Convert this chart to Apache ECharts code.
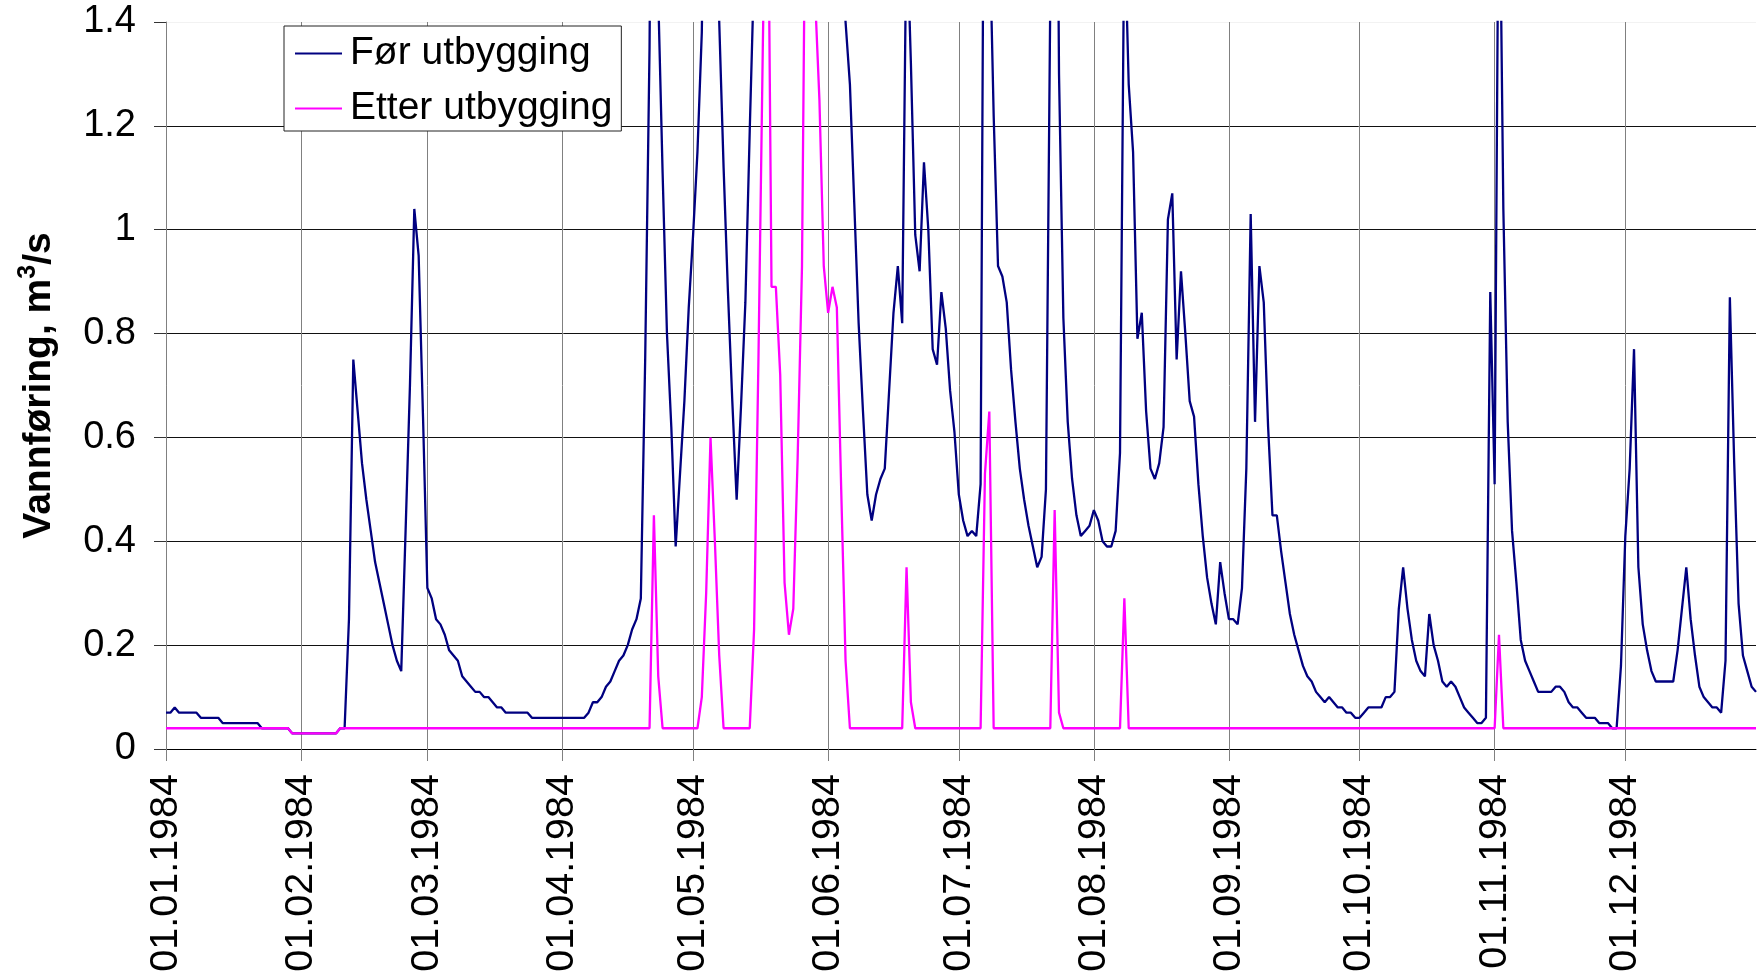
<!DOCTYPE html>
<html>
<head>
<meta charset="utf-8">
<script src="https://cdn.jsdelivr.net/npm/echarts@6/dist/echarts.min.js"></script>
<style>
html, body { margin: 0; padding: 0; background: #fff; }
#chart { width: 1759px; height: 977px; }
</style>
</head>
<body>
<div id="chart"></div>
<script>
// ---- Data ----
const seriesNames = ['Før utbygging', 'Etter utbygging'];

// Daily categories for 1984 (leap year, 366 days)
function pad2(n) { return (n < 10 ? '0' : '') + n; }
const categories = [];
(function () {
  const d = new Date(Date.UTC(1984, 0, 1));
  while (d.getUTCFullYear() === 1984) {
    categories.push(pad2(d.getUTCDate()) + '.' + pad2(d.getUTCMonth() + 1) + '.1984');
    d.setUTCDate(d.getUTCDate() + 1);
  }
})();

// Før utbygging (before development), m3/s, one value per day by month
const forJan = [0.07,0.07,0.08,0.07,0.07,0.07,0.07,0.07,0.06,0.06,0.06,0.06,0.06,0.05,0.05,0.05,0.05,0.05,0.05,0.05,0.05,0.05,0.04,0.04,0.04,0.04,0.04,0.04,0.04,0.03,0.03];
const forFeb = [0.03,0.03,0.03,0.03,0.03,0.03,0.03,0.03,0.03,0.04,0.04,0.25,0.75,0.65,0.55,0.48,0.42,0.36,0.32,0.28,0.24,0.20,0.17,0.15,0.42,0.70,1.04,0.95,0.64];
const forMar = [0.31,0.29,0.25,0.24,0.22,0.19,0.18,0.17,0.14,0.13,0.12,0.11,0.11,0.10,0.10,0.09,0.08,0.08,0.07,0.07,0.07,0.07,0.07,0.07,0.06,0.06,0.06,0.06,0.06,0.06,0.06];
const forApr = [0.06,0.06,0.06,0.06,0.06,0.06,0.07,0.09,0.09,0.10,0.12,0.13,0.15,0.17,0.18,0.20,0.23,0.25,0.29,0.75,1.35,2.5,1.45,1.11,0.80,0.62,0.39,0.53,0.67,0.85];
const forMay = [0.99,1.15,1.38,2.0,2.5,2.0,1.40,1.12,0.88,0.67,0.48,0.66,0.86,1.19,1.5,2.2,2.8,3.2,3.5,3.3,3.0,2.8,2.6,2.8,3.1,3.4,3.6,3.4,3.1,2.8,2.5];
const forJun = [2.3,2.1,1.9,1.7,1.40,1.28,1.05,0.82,0.65,0.49,0.44,0.49,0.52,0.54,0.69,0.84,0.93,0.82,1.6,1.32,0.99,0.92,1.13,1.00,0.77,0.74,0.88,0.81,0.69,0.61];
const forJul = [0.49,0.44,0.41,0.42,0.41,0.51,2.2,1.6,1.22,0.93,0.91,0.86,0.73,0.63,0.54,0.48,0.43,0.39,0.35,0.37,0.50,1.45,2.5,1.30,0.83,0.63,0.52,0.45,0.41,0.42,0.43];
const forAug = [0.46,0.44,0.40,0.39,0.39,0.42,0.57,1.6,1.28,1.15,0.79,0.84,0.65,0.54,0.52,0.55,0.62,1.02,1.07,0.75,0.92,0.80,0.67,0.64,0.51,0.41,0.33,0.28,0.24,0.36,0.30];
const forSep = [0.25,0.25,0.24,0.31,0.54,1.03,0.63,0.93,0.86,0.62,0.45,0.45,0.38,0.32,0.26,0.22,0.19,0.16,0.14,0.13,0.11,0.10,0.09,0.10,0.09,0.08,0.08,0.07,0.07,0.06];
const forOct = [0.06,0.07,0.08,0.08,0.08,0.08,0.10,0.10,0.11,0.27,0.35,0.27,0.21,0.17,0.15,0.14,0.26,0.20,0.17,0.13,0.12,0.13,0.12,0.10,0.08,0.07,0.06,0.05,0.05,0.06,0.88];
const forNov = [0.51,1.8,1.04,0.63,0.42,0.32,0.21,0.17,0.15,0.13,0.11,0.11,0.11,0.11,0.12,0.12,0.11,0.09,0.08,0.08,0.07,0.06,0.06,0.06,0.05,0.05,0.05,0.04,0.04,0.16];
const forDec = [0.41,0.54,0.77,0.35,0.24,0.19,0.15,0.13,0.13,0.13,0.13,0.13,0.19,0.27,0.35,0.25,0.18,0.12,0.10,0.09,0.08,0.08,0.07,0.17,0.87,0.55,0.28,0.18,0.15,0.12,0.11];

// Etter utbygging (after development), m3/s, one value per day by month
const etterJan = [0.04,0.04,0.04,0.04,0.04,0.04,0.04,0.04,0.04,0.04,0.04,0.04,0.04,0.04,0.04,0.04,0.04,0.04,0.04,0.04,0.04,0.04,0.04,0.04,0.04,0.04,0.04,0.04,0.04,0.03,0.03];
const etterFeb = [0.03,0.03,0.03,0.03,0.03,0.03,0.03,0.03,0.03,0.04,0.04,0.04,0.04,0.04,0.04,0.04,0.04,0.04,0.04,0.04,0.04,0.04,0.04,0.04,0.04,0.04,0.04,0.04,0.04];
const etterMar = [0.04,0.04,0.04,0.04,0.04,0.04,0.04,0.04,0.04,0.04,0.04,0.04,0.04,0.04,0.04,0.04,0.04,0.04,0.04,0.04,0.04,0.04,0.04,0.04,0.04,0.04,0.04,0.04,0.04,0.04,0.04];
const etterApr = [0.04,0.04,0.04,0.04,0.04,0.04,0.04,0.04,0.04,0.04,0.04,0.04,0.04,0.04,0.04,0.04,0.04,0.04,0.04,0.04,0.04,0.45,0.14,0.04,0.04,0.04,0.04,0.04,0.04,0.04];
const etterMay = [0.04,0.04,0.10,0.30,0.60,0.40,0.18,0.04,0.04,0.04,0.04,0.04,0.04,0.04,0.23,0.75,1.35,1.9,0.89,0.89,0.72,0.32,0.22,0.27,0.56,0.93,1.9,2.0,1.45,1.25,0.93];
const etterJun = [0.84,0.89,0.85,0.50,0.17,0.04,0.04,0.04,0.04,0.04,0.04,0.04,0.04,0.04,0.04,0.04,0.04,0.04,0.35,0.09,0.04,0.04,0.04,0.04,0.04,0.04,0.04,0.04,0.04,0.04];
const etterJul = [0.04,0.04,0.04,0.04,0.04,0.04,0.53,0.65,0.04,0.04,0.04,0.04,0.04,0.04,0.04,0.04,0.04,0.04,0.04,0.04,0.04,0.04,0.46,0.07,0.04,0.04,0.04,0.04,0.04,0.04,0.04];
const etterAug = [0.04,0.04,0.04,0.04,0.04,0.04,0.04,0.29,0.04,0.04,0.04,0.04,0.04,0.04,0.04,0.04,0.04,0.04,0.04,0.04,0.04,0.04,0.04,0.04,0.04,0.04,0.04,0.04,0.04,0.04,0.04];
const etterSep = [0.04,0.04,0.04,0.04,0.04,0.04,0.04,0.04,0.04,0.04,0.04,0.04,0.04,0.04,0.04,0.04,0.04,0.04,0.04,0.04,0.04,0.04,0.04,0.04,0.04,0.04,0.04,0.04,0.04,0.04];
const etterOct = [0.04,0.04,0.04,0.04,0.04,0.04,0.04,0.04,0.04,0.04,0.04,0.04,0.04,0.04,0.04,0.04,0.04,0.04,0.04,0.04,0.04,0.04,0.04,0.04,0.04,0.04,0.04,0.04,0.04,0.04,0.04];
const etterNov = [0.04,0.22,0.04,0.04,0.04,0.04,0.04,0.04,0.04,0.04,0.04,0.04,0.04,0.04,0.04,0.04,0.04,0.04,0.04,0.04,0.04,0.04,0.04,0.04,0.04,0.04,0.04,0.04,0.04,0.04];
const etterDec = [0.04,0.04,0.04,0.04,0.04,0.04,0.04,0.04,0.04,0.04,0.04,0.04,0.04,0.04,0.04,0.04,0.04,0.04,0.04,0.04,0.04,0.04,0.04,0.04,0.04,0.04,0.04,0.04,0.04,0.04,0.04];

const forValues = [].concat(forJan, forFeb, forMar, forApr, forMay, forJun, forJul, forAug, forSep, forOct, forNov, forDec);
const etterValues = [].concat(etterJan, etterFeb, etterMar, etterApr, etterMay, etterJun, etterJul, etterAug, etterSep, etterOct, etterNov, etterDec);

// ---- Chart ----
const FONT = 'Liberation Sans, Arial, Helvetica, sans-serif';
function isMonthStart(index, value) { return String(value).slice(0, 2) === '01'; }

const chart = echarts.init(document.getElementById('chart'), null, { renderer: 'canvas' });
chart.setOption({
  animation: false,
  backgroundColor: '#ffffff',
  grid: { left: 166, right: 3, top: 22, bottom: 228, containLabel: false, outerBoundsMode: 'none' },
  legend: {
    data: seriesNames,
    orient: 'vertical',
    left: 284,
    top: 26,
    backgroundColor: '#ffffff',
    borderColor: '#222',
    borderWidth: 1,
    borderRadius: 0,
    padding: [5, 9, 0, 11],
    itemGap: 10,
    itemWidth: 47,
    itemHeight: 2,
    icon: 'rect',
    textStyle: { fontFamily: FONT, fontSize: 39, color: '#000', lineHeight: 45, padding: [0, 0, 0, 3] }
  },
  xAxis: {
    type: 'category',
    data: categories,
    boundaryGap: false,
    axisLine: { show: true, lineStyle: { color: '#000', width: 1 } },
    axisTick: { show: true, interval: isMonthStart, length: 12, lineStyle: { color: '#808080', width: 1 } },
    axisLabel: { interval: isMonthStart, rotate: 90, margin: 25, fontFamily: FONT, fontSize: 39.5, color: '#000' },
    splitLine: { show: true, interval: isMonthStart, lineStyle: { color: '#808080', width: 1 } }
  },
  yAxis: {
    type: 'value',
    min: 0,
    max: 1.4,
    interval: 0.2,
    name: '{t|Vannføring, m}{sup|3}{t|/s}',
    nameLocation: 'middle',
    nameGap: 104,
    nameTextStyle: {
      fontFamily: FONT, fontSize: 39, fontWeight: 'bold', color: '#000',
      rich: {
        t: { fontFamily: FONT, fontSize: 39, fontWeight: 'bold', color: '#000', lineHeight: 46 },
        sup: { fontFamily: FONT, fontSize: 25, fontWeight: 'bold', color: '#000', lineHeight: 16, verticalAlign: 'top' }
      }
    },
    axisLine: { show: true, lineStyle: { color: '#808080', width: 1 } },
    axisTick: { show: true, length: 12, lineStyle: { color: '#333', width: 1 } },
    axisLabel: { margin: 30, fontFamily: FONT, fontSize: 38, color: '#000' },
    splitLine: { show: true, lineStyle: { color: ['#000', '#111', '#111', '#111', '#111', '#111', '#111', '#f2f2f2'], width: 1 } }
  },
  series: [
    {
      name: seriesNames[0],
      type: 'line',
      data: forValues,
      showSymbol: false,
      symbol: 'none',
      clip: true,
      lineStyle: { color: '#000080', width: 2.3 },
      itemStyle: { color: '#000080' },
      z: 2
    },
    {
      name: seriesNames[1],
      type: 'line',
      data: etterValues,
      showSymbol: false,
      symbol: 'none',
      clip: true,
      lineStyle: { color: '#ff00ff', width: 2.3 },
      itemStyle: { color: '#ff00ff' },
      z: 3
    }
  ]
});
</script>
</body>
</html>
